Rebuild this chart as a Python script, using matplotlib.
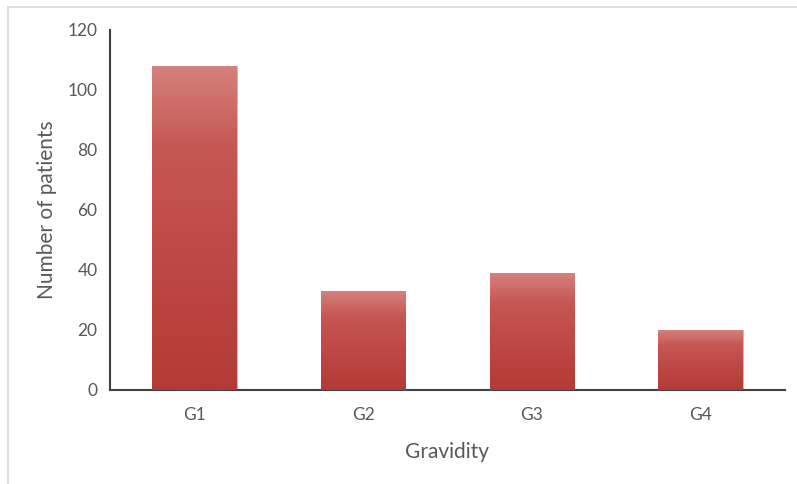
import matplotlib
matplotlib.use("Agg")
import matplotlib.pyplot as plt
import numpy as np
from matplotlib.colors import LinearSegmentedColormap
from matplotlib.lines import Line2D

# ── data ────────────────────────────────────────────────────────────
categories = ["G1", "G2", "G3", "G4"]
patients = [108, 33, 39, 20]
y_ticks = [0, 20, 40, 60, 80, 100, 120]

# ── style ───────────────────────────────────────────────────────────
TEXT_GREY = "#595959"
AXIS_DARK = "#404040"
grad = LinearSegmentedColormap.from_list(
    "bar_grad", [(0.0, "#B33A37"), (0.45, "#BF4A47"), (0.75, "#C65753"), (1.0, "#D5817D")]
)
FONT = ["Lato", "DejaVu Sans"]

fig = plt.figure(figsize=(7.97, 4.84), dpi=100)
fig.patch.set_facecolor("white")
ax = fig.add_axes([110 / 797, 94 / 484, 675 / 797, 360 / 484])

x = np.arange(len(categories))
bars = ax.bar(x, patients, width=0.5, color="#C0504D", zorder=2)

# vertical gradient inside each bar
g = np.linspace(0, 1, 256).reshape(-1, 1)
for b in bars:
    x0, y0 = b.get_x(), b.get_y()
    im = ax.imshow(g, cmap=grad, origin="lower", aspect="auto",
                   extent=(x0, x0 + b.get_width(), y0, y0 + b.get_height()),
                   zorder=3)
    im.set_clip_path(b)
    b.set_edgecolor("#E8B0AE")
    b.set_linewidth(0.6)

ax.set_xlim(-0.5, len(categories) - 0.5)
ax.set_ylim(0, 120)
ax.set_yticks(y_ticks)
ax.set_xticks(x)
ax.set_xticklabels(categories)

for s in ["top", "right"]:
    ax.spines[s].set_visible(False)
for s in ["left", "bottom"]:
    ax.spines[s].set_color(AXIS_DARK)
    ax.spines[s].set_linewidth(1.5)
ax.tick_params(length=0, colors=TEXT_GREY, labelsize=12.5)
ax.tick_params(axis="y", pad=9)
ax.tick_params(axis="x", pad=12)
for lab in ax.get_xticklabels() + ax.get_yticklabels():
    lab.set_family(FONT)

ax.set_xlabel("Gravidity", fontsize=15, color=TEXT_GREY, family=FONT, labelpad=14)
ax.set_ylabel("Number of patients", fontsize=15, color=TEXT_GREY, family=FONT, labelpad=7.5)

# light frame lines (top and left) of the chart area
fig.add_artist(Line2D([8 / 797, 1.0], [1 - 7 / 484, 1 - 7 / 484],
                      color="#D9D9D9", lw=1.2, transform=fig.transFigure))
fig.add_artist(Line2D([8 / 797, 8 / 797], [0.0, 1 - 7 / 484],
                      color="#D9D9D9", lw=1.2, transform=fig.transFigure))

fig.savefig("out.png", dpi=100, facecolor="white")
